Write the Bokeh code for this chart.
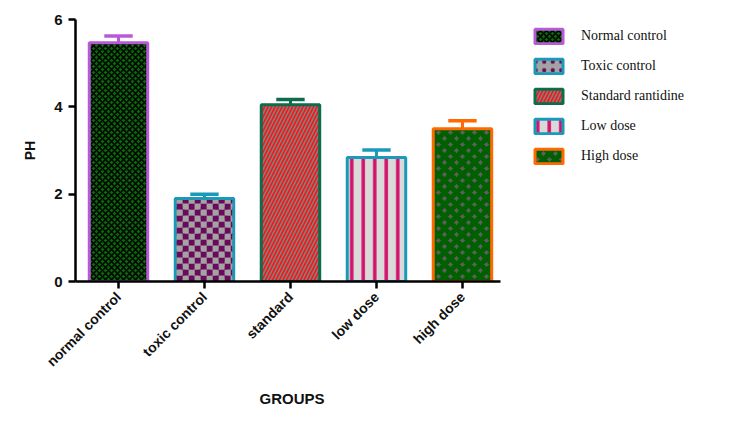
import math
from bokeh.plotting import figure
from bokeh.models import Range1d, FixedTicker, Legend, LegendItem, Title
from bokeh.embed import file_html
from bokeh.resources import INLINE

# ---- data ----
groups = ["normal control", "toxic control", "standard", "low dose", "high dose"]
legend_labels = ["Normal control", "Toxic control", "Standard rantidine", "Low dose", "High dose"]
ph_mean = [5.47, 1.90, 4.05, 2.84, 3.50]
ph_err = [0.15, 0.10, 0.12, 0.17, 0.18]
y_ticks = [0, 2, 4, 6]
x_title = "GROUPS"
y_title = "PH"

# ---- styles ----
outline_colors = ["#b85ad8", "#1a9ab8", "#0e6b4c", "#1a9ab8", "#ff6a00"]
fill_colors = ["#0a660a", "#a3a3a3", "#808080", "#d9d9d9", "#5e5e5e"]
hatch_patterns = ["diagonal_cross", "dot", "right_diagonal_line", "vertical_line", "diagonal_cross"]
hatch_colors = ["#000000", "#6b0a5c", "#ff1010", "#d4116b", "#006000"]
hatch_scales = [6, 8.5, 7, 11.5, 12]
hatch_weights = [1.5, 3, 1.6, 3.5, 5]
checker_colors = ["#6b0a5c", "#a3a3a3"]

W, H = 738, 419
BL, BT, BB = 75, 19, 138
X_END = 7.71
BAR_W = 0.68
LW = 3

xs = [i + 0.5 for i in range(len(groups))]
tops = [m + e for m, e in zip(ph_mean, ph_err)]

p = figure(width=W, height=H, output_backend="svg", toolbar_location=None,
           x_range=Range1d(0, X_END), y_range=Range1d(0, 6),
           min_border_left=BL, min_border_top=BT, min_border_right=0,
           min_border_bottom=BB)
p.outline_line_color = None
p.xgrid.visible = False
p.ygrid.visible = False

px_x = (W - BL) / X_END          # pixels per x unit
px_y = (H - BT - BB) / 6.0       # pixels per y unit

items = []
for i in range(len(groups)):
    r = p.vbar(x=[xs[i]], top=[ph_mean[i]], bottom=0, width=BAR_W,
               fill_color=fill_colors[i], line_color=outline_colors[i], line_width=LW,
               hatch_pattern=hatch_patterns[i], hatch_color=hatch_colors[i],
               hatch_scale=hatch_scales[i], hatch_weight=hatch_weights[i])
    items.append(LegendItem(label=legend_labels[i], renderers=[r]))

# checkerboard fill of the "toxic control" bar (6 px squares inside the outline)
k = 1
sq_x, sq_y = 6 / px_x, 6 / px_y
left0 = xs[k] - BAR_W / 2 + (LW / 2) / px_x
right0 = xs[k] + BAR_W / 2 - (LW / 2) / px_x
top0 = ph_mean[k] - (LW / 2) / px_y
q = {"left": [], "right": [], "bottom": [], "top": [], "color": []}
for j in range(math.ceil(top0 / sq_y)):
    for c in range(math.ceil((right0 - left0) / sq_x)):
        l = left0 + c * sq_x
        b = j * sq_y
        q["left"].append(l)
        q["right"].append(min(l + sq_x, right0))
        q["bottom"].append(b)
        q["top"].append(min(b + sq_y, top0))
        q["color"].append(checker_colors[(c + j) % 2])
p.quad(left=q["left"], right=q["right"], bottom=q["bottom"], top=q["top"],
       fill_color=q["color"], line_color=None)

# error bars (upper only)
p.segment(x0=xs, y0=ph_mean, x1=xs, y1=tops, line_width=3, line_color=outline_colors)
p.segment(x0=[x - 0.165 for x in xs], y0=tops, x1=[x + 0.165 for x in xs], y1=tops,
          line_width=3.5, line_color=outline_colors)

# axes
for ax in (p.xaxis[0], p.yaxis[0]):
    ax.axis_line_width = 2.5
    ax.axis_line_color = "black"
    ax.major_tick_line_width = 2.5
    ax.major_tick_line_color = "black"
    ax.major_tick_out = 7
    ax.major_tick_in = 0
    ax.minor_tick_line_color = None
    ax.major_label_text_font = "Liberation Sans"
    ax.major_label_text_font_style = "bold"
    ax.major_label_text_color = "#111111"
    ax.axis_label_text_font = "Liberation Sans"
    ax.axis_label_text_font_style = "bold"
    ax.axis_label_text_color = "#111111"

p.yaxis.ticker = FixedTicker(ticks=y_ticks)
p.yaxis.major_label_text_font_size = "15px"
p.yaxis.major_label_standoff = 6
p.yaxis.axis_label = y_title
p.yaxis.axis_label_text_font_size = "14px"
p.yaxis.axis_label_standoff = 13

p.xaxis.bounds = (0, 4.94)
p.xaxis.ticker = FixedTicker(ticks=xs)
p.xaxis.major_label_overrides = {x: g for x, g in zip(xs, groups)}
p.xaxis.major_label_orientation = 0.785398
p.xaxis.major_label_text_font_size = "14px"
p.xaxis.major_label_standoff = 6

p.add_layout(Title(text=x_title, align="left", offset=184, standoff=18,
                   text_font="Liberation Sans", text_font_style="bold",
                   text_font_size="15px", text_color="#111111"), "below")

legend = Legend(items=items, location=(456, 116), margin=0, padding=0,
                glyph_width=35, glyph_height=18, label_height=18, spacing=12,
                label_standoff=15, label_text_font="Liberation Serif",
                label_text_font_size="14px", label_text_color="#111111",
                border_line_color=None, background_fill_alpha=0)
p.add_layout(legend, "center")

open("out.html", "w").write(file_html(p, INLINE))
